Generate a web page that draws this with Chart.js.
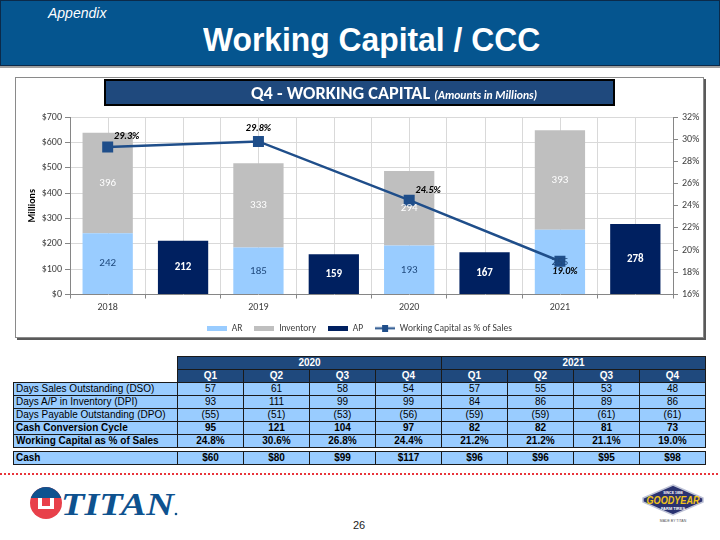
<!DOCTYPE html>
<html><head><meta charset="utf-8">
<script src="https://cdn.jsdelivr.net/npm/chart.js@4/dist/chart.umd.min.js"></script>
<style>
body{margin:0;width:720px;height:540px;position:relative;background:#fff;font-family:"Liberation Sans",Arial,sans-serif;overflow:hidden}
#hdr{position:absolute;left:0;top:0;width:718px;height:64px;background:#05558F;border:1px solid #0B2A4A}
#hdrline{position:absolute;left:0;top:66px;width:720px;height:2px;background:#a0a0a0}
#appx{position:absolute;left:48px;top:5px;color:#fff;font-style:italic;font-size:14px}
#ttl{position:absolute;left:203px;top:21px;color:#fff;font-weight:bold;font-size:33.5px;white-space:nowrap;transform:scaleX(0.95);transform-origin:left top}
#box{position:absolute;left:15px;top:77px;width:687px;height:259px;border:1px solid #8a8a8a;box-shadow:2px 2px 0 #5a5a5a}
#cv{position:absolute;left:16px;top:78px}
#ctitle{position:absolute;left:104px;top:79px;width:507px;height:23px;background:#1F497D;border:2px solid #000;color:#fff;font-family:Carlito,Lato,sans-serif;white-space:nowrap;line-height:24px}
#ctitle .a{position:absolute;left:145px;font-weight:bold;font-size:18.3px}
#ctitle .b{font-style:italic;font-size:11.6px;font-weight:bold}
table{position:absolute;border-collapse:collapse;table-layout:fixed;font-size:10px}
td{height:12px;line-height:12px;padding:0;border:1px solid #1a1a1a;text-align:center;background:#99CCFF;color:#000;overflow:hidden;white-space:nowrap}
td.lab{text-align:left;padding-left:2px}
td.hd{background:#1F497D;color:#fff;font-weight:bold}
td.blank{background:#fff;border:none}
tr.b td{font-weight:bold}
#dots{position:absolute;left:0;top:473px;width:720px;height:2px;background:repeating-linear-gradient(to right,#E8353B 0 2px,transparent 2px 4px)}
#pg{position:absolute;left:353px;top:519px;font-size:11px;color:#222}
</style></head>
<body>
<div id="hdr"></div>
<div id="hdrline"></div>
<div id="appx">Appendix</div>
<div id="ttl">Working Capital / CCC</div>
<div id="box"></div>
<canvas id="cv" width="687" height="259"></canvas>
<div id="ctitle"><span class="a">Q4 - WORKING CAPITAL <span class="b">(Amounts in Millions)</span></span></div>
<table id="t1"></table>
<table id="t2"></table>
<div id="dots"></div>
<svg style="position:absolute;left:28px;top:485px" width="160" height="36" viewBox="0 0 160 36">
  <defs><clipPath id="cc"><circle cx="18" cy="18" r="16"/></clipPath></defs>
  <circle cx="18" cy="18" r="16" fill="#E8404A"/>
  <rect x="0" y="0" width="36" height="13" fill="#0E528F" clip-path="url(#cc)"/>
  <path d="M10 13 L14 13 L14 21 L22 21 L22 13 L26 13 L26 24 L10 24 Z" fill="#fff"/>
  <text x="33" y="30" font-family="Liberation Serif,serif" font-weight="bold" font-style="italic" font-size="31" fill="#0E528F" textLength="113" lengthAdjust="spacingAndGlyphs">TITAN</text>
  <circle cx="148" cy="29" r="1.3" fill="#0E528F"/>
</svg>
<svg style="position:absolute;left:641px;top:484px" width="64" height="42" viewBox="0 0 64 42">
  <polygon points="32,1 62,14 62,18 32,31 2,18 2,14" fill="#2A3270" stroke="#bfc3d6" stroke-width="1.5"/>
  <text x="32" y="9.5" font-family="Liberation Sans" font-size="3.5" font-weight="bold" fill="#fff" text-anchor="middle">SINCE 1898</text>
  <text x="32" y="19.5" font-family="Liberation Sans" font-size="10" font-weight="bold" font-style="italic" fill="#F2C418" text-anchor="middle" textLength="53" lengthAdjust="spacingAndGlyphs">GOODYEAR</text>
  <text x="32" y="25.5" font-family="Liberation Sans" font-size="4" font-weight="bold" fill="#fff" text-anchor="middle">FARM TIRES</text>
  <text x="32" y="38" font-family="Liberation Sans" font-size="3.5" fill="#555" text-anchor="middle">MADE BY TITAN</text>
</svg>
<div id="pg">26</div>
<script>
// ---------- chart data ----------
const categories = ["2018", "", "2019", "", "2020", "", "2021", ""];
const arValues = [242, null, 185, null, 193, null, 255, null];
const inventoryValues = [396, null, 333, null, 294, null, 393, null];
const apValues = [null, 212, null, 159, null, 167, null, 278];
const wcPctValues = [29.3, null, 29.8, null, 24.5, null, 19.0, null];
const seriesNames = ["AR", "Inventory", "AP", "Working Capital as % of Sales"];

// ---------- table data ----------
const tableYears = ["2020", "2021"];
const tableQuarters = ["Q1", "Q2", "Q3", "Q4", "Q1", "Q2", "Q3", "Q4"];
const dsoValues = [57, 61, 58, 54, 57, 55, 53, 48];
const dpiValues = [93, 111, 99, 99, 84, 86, 89, 86];
const dpoValues = [-55, -51, -53, -56, -59, -59, -61, -61];
const cccValues = [95, 121, 104, 97, 82, 82, 81, 73];
const wcSalesValues = [24.8, 30.6, 26.8, 24.4, 21.2, 21.2, 21.1, 19.0];
const cashValues = [60, 80, 99, 117, 96, 96, 95, 98];

// ---------- build tables ----------
function colgroup(){ return '<colgroup><col style="width:164px">' + tableQuarters.map(()=>'<col style="width:66px">').join('') + '</colgroup>'; }
function row(label, vals, fmt, cls){ return '<tr class="'+(cls||'')+'"><td class="lab">'+label+'</td>'+vals.map(v=>'<td>'+fmt(v)+'</td>').join('')+'</tr>'; }
const t1 = document.getElementById('t1');
t1.style.left='13px'; t1.style.top='356px'; t1.style.width='692px';
t1.innerHTML = colgroup() +
  '<tr><td class="blank"></td>' + tableYears.map(y=>'<td class="hd" colspan="4">'+y+'</td>').join('') + '</tr>' +
  '<tr><td class="blank"></td>' + tableQuarters.map(q=>'<td class="hd">'+q+'</td>').join('') + '</tr>' +
  row('Days Sales Outstanding (DSO)', dsoValues, v=>v) +
  row('Days A/P in Inventory (DPI)', dpiValues, v=>v) +
  row('Days Payable Outstanding (DPO)', dpoValues, v=>'('+Math.abs(v)+')') +
  row('Cash Conversion Cycle', cccValues, v=>v, 'b') +
  row('Working Capital as % of Sales', wcSalesValues, v=>v.toFixed(1)+'%', 'b');
const t2 = document.getElementById('t2');
t2.style.left='13px'; t2.style.top='451px'; t2.style.width='692px';
t2.innerHTML = colgroup() + row('Cash', cashValues, v=>'$'+v, 'b');

// ---------- chart ----------
const C_AR = '#99CCFF', C_INV = '#BFBFBF', C_AP = '#002060', C_LINE = '#1F4E8A';
Chart.defaults.font.family = 'Carlito, Lato, sans-serif';
Chart.defaults.font.size = 10;
Chart.defaults.color = '#404040';

function swatch(color){ const c=document.createElement('canvas'); c.width=20; c.height=5; const x=c.getContext('2d'); x.fillStyle=color; x.fillRect(0,0,20,5); return c; }
function lineSwatch(){ const c=document.createElement('canvas'); c.width=20; c.height=7; const x=c.getContext('2d'); x.fillStyle=C_LINE; x.fillRect(0,2.5,20,2); x.fillRect(7,0,6,7); return c; }
const legendImgs = [swatch(C_AR), swatch(C_INV), swatch(C_AP), lineSwatch()];

const pctLabelPlacement = ['upright', 'up', 'upright', 'downright'];

const gridCenters = {
  id:'gridCenters',
  beforeDatasetsDraw(chart){
    const {ctx, chartArea:a, scales:{x}} = chart;
    ctx.save(); ctx.strokeStyle='#D9D9D9'; ctx.lineWidth=1;
    categories.forEach((c,i)=>{ const px=Math.round(x.getPixelForValue(i))+0.5; ctx.beginPath(); ctx.moveTo(px,a.top); ctx.lineTo(px,a.bottom); ctx.stroke(); });
    ctx.restore();
  }
};
const valueLabels = {
  id:'valueLabels',
  afterDatasetsDraw(chart){
    const ctx = chart.ctx; ctx.save();
    ctx.textAlign='center'; ctx.textBaseline='middle';
    chart.data.datasets.forEach((ds,di)=>{
      const meta = chart.getDatasetMeta(di);
      meta.data.forEach((el,i)=>{
        const v = ds.data[i]; if (v==null) return;
        if (ds.type==='line'){
          ctx.font = 'italic bold 10px Carlito, Lato, sans-serif'; ctx.fillStyle='#000';
          const p = pctLabelPlacement[i/2|0]; let dx=0, dy=-13;
          if (p==='upright'){dx=19;dy=-10;} else if (p==='downright'){dx=5;dy=10;}
          ctx.fillText(v.toFixed(1)+'%', el.x+dx, el.y+dy);
        } else {
          const cy = (el.y+el.base)/2;
          if (di===0){ ctx.font='11px Carlito, Lato, sans-serif'; ctx.fillStyle='#1F497D'; }
          else if (di===1){ ctx.font='11px Carlito, Lato, sans-serif'; ctx.fillStyle='#fff'; }
          else { ctx.font='bold 11px Carlito, Lato, sans-serif'; ctx.fillStyle='#fff'; }
          ctx.fillText(String(v), el.x, cy);
        }
      });
    });
    ctx.restore();
  }
};

new Chart(document.getElementById('cv'), {
  type:'bar',
  data:{
    labels: categories,
    datasets:[
      {label:seriesNames[0], data:arValues, backgroundColor:C_AR, stack:'s', order:1},
      {label:seriesNames[1], data:inventoryValues, backgroundColor:C_INV, stack:'s', order:1},
      {label:seriesNames[2], data:apValues, backgroundColor:C_AP, stack:'s', order:1},
      {label:seriesNames[3], type:'line', data:wcPctValues, yAxisID:'y2', borderColor:C_LINE, backgroundColor:C_LINE, borderWidth:2.5, pointStyle:'rect', pointRadius:6, pointBackgroundColor:C_LINE, pointBorderColor:C_LINE, spanGaps:true, order:0, tension:0}
    ]
  },
  options:{
    responsive:false, animation:false, devicePixelRatio:1,
    barPercentage:0.667, categoryPercentage:1,
    layout:{padding:{top:39, left:0, right:0, bottom:-6}},
    plugins:{
      tooltip:{enabled:false},
      legend:{position:'bottom',
        labels:{usePointStyle:true, pointStyleWidth:20, boxHeight:7, padding:12, color:'#404040', font:{size:9.5},
          sort:(a,b)=>a.datasetIndex-b.datasetIndex,
          generateLabels:(chart)=>chart.data.datasets.map((d,i)=>({text:d.label, datasetIndex:i, pointStyle:legendImgs[i], fillStyle:'transparent', strokeStyle:'transparent', lineWidth:0, hidden:false, fontColor:'#404040'}))
        }}
    },
    scales:{
      x:{stacked:true, offset:true,
        grid:{offset:true, color:'#D9D9D9', tickColor:'#868686', tickLength:4},
        border:{color:'#868686'},
        ticks:{padding:3, maxRotation:0, autoSkip:false, color:'#404040'},
        afterFit:s=>{s.height=17;}},
      y:{stacked:true, min:0, max:700, position:'left',
        ticks:{stepSize:100, padding:3, callback:v=>'$'+v, color:'#404040'},
        grid:{color:'#D9D9D9', tickColor:'#868686', tickLength:5},
        border:{color:'#868686'},
        title:{display:true, text:'Millions', color:'#000', font:{weight:'bold', size:10}, padding:{top:10,bottom:0}},
        afterFit:s=>{s.width=54;}},
      y2:{min:16, max:32, position:'right',
        ticks:{stepSize:2, padding:4, callback:v=>v+'%', color:'#404040'},
        grid:{drawOnChartArea:false, tickColor:'#868686', tickLength:5},
        border:{color:'#868686'},
        afterFit:s=>{s.width=30;}}
    }
  },
  plugins:[gridCenters, valueLabels]
});
</script>
</body></html>
